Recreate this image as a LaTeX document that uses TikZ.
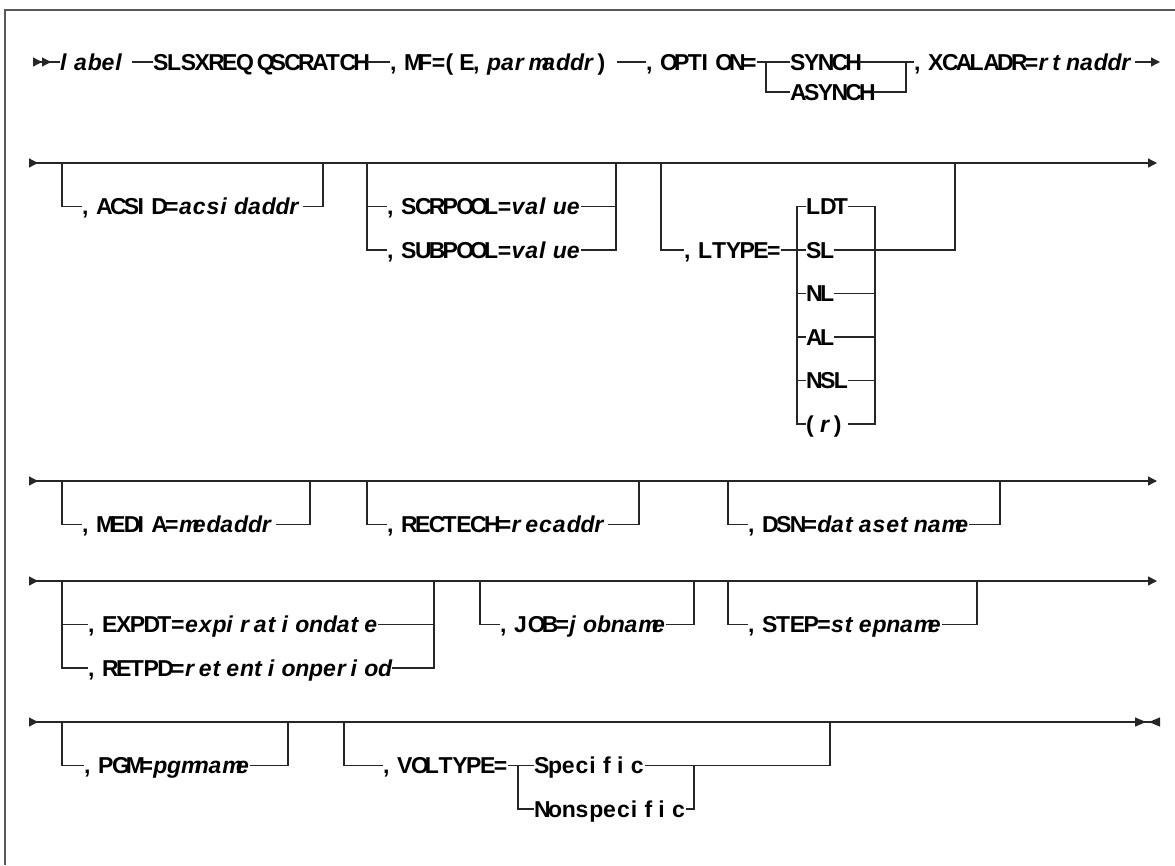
\documentclass[tikz,border=0pt]{standalone}
\usepackage{fontspec}
\setmainfont{Liberation Sans}
\usetikzlibrary{arrows.meta}
\newlength\cellw
\setlength\cellw{13.8pt}
\newlength\narw
\setlength\narw{7pt}
% every character in a cell of its own, as the listing prints it
\ExplSyntaxOn
\NewDocumentCommand \rt { m }
  {
    \str_map_inline:nn { #1 }
      {
        \str_case:nnF { ##1 }
          { { , } { \makebox[\narw][l]{,} } { ~ } { \hspace{\narw} } }
          { \makebox[\cellw][l]{##1} }
      }
  }
\ExplSyntaxOff
\tikzset{
  tipin/.tip={Triangle[reversed,length=9pt,width=9pt]},
  tipout/.tip={Triangle[length=9pt,width=9pt]}
}
\begin{document}
\begin{tikzpicture}[x=1pt,y=-1pt,
    rail/.style={line width=1.3pt,draw=black!85},
    item/.style={anchor=west,inner xsep=0pt,inner ysep=0pt,
      text height=16.5pt,text depth=0pt,
      font=\fontsize{23}{26}\selectfont\bfseries}]
  \useasboundingbox (0,0) rectangle (1175,865);
  \draw[line width=1.5pt,black!65] (5,865) -- (5,10) -- (1175,10);

  % row 1
  \coordinate (s1) at (28,62);
  \node[item] (lab) at (60,62) {\itshape\rt{label}};
  \node[item] (macro) at (153,62) {\rt{SLSXREQ QSCRATCH}};
  \node[item] (mf) at (390,62) {\rt{, MF=(E, }\textit{\rt{parmaddr}}\rt{)}};
  \node[item] (opt) at (646,62) {\rt{, OPTION=}};
  \coordinate (optL) at (766,62);
  \node[item] (synch) at (790,62) {\rt{SYNCH}};
  \node[item] (asynch) at (790,92) {\rt{ASYNCH}};
  \coordinate (optR) at (906,62);
  \node[item] (xcal) at (914,62) {\rt{, XCALADR=}\textit{\rt{rtnaddr}}};
  \coordinate (e1) at (1160,62);
  \draw[rail,{Triangle[reversed,length=9pt,width=9pt,sep=5pt]Triangle[reversed,length=9pt,width=9pt]}-] (s1) -- (lab.west);
  \draw[rail,shorten <=3pt] (lab.east) -- (macro.west);
  \draw[rail] (macro.east) -- (mf.west);
  \draw[rail,shorten <=5pt] (mf.east) -- (opt.west);
  \draw[rail] (opt.east) -- (optL) -- (synch.west);
  \draw[rail] (optL) |- (asynch.west);
  \draw[rail] (synch.east) -- (optR) -- (xcal.west);
  \draw[rail] (asynch.east) -| (optR);
  \draw[rail,-tipout] (xcal.east) -- (e1);

  % row 2
  \coordinate (s2) at (29,163);
  \coordinate (e2) at (1157,163);
  \draw[rail,tipin-tipout] (s2) -- (e2);
  \coordinate (a1) at (62,163);
  \coordinate (a2) at (323,163);
  \node[item] (acsid) at (82,206.5) {\rt{, ACSID=}\textit{\rt{acsidaddr}}};
  \draw[rail] (a1) |- (acsid.west);
  \draw[rail] (acsid.east) -| (a2);
  \coordinate (p1) at (367,163);
  \coordinate (p2) at (616,163);
  \node[item] (scr) at (387,206.5) {\rt{, SCRPOOL=}\textit{\rt{value}}};
  \node[item] (sub) at (387,250) {\rt{, SUBPOOL=}\textit{\rt{value}}};
  \draw[rail] (p1) |- (sub.west);
  \draw[rail] (p1) |- (scr.west);
  \draw[rail] (scr.east) -| (p2);
  \draw[rail] (sub.east) -| (p2);
  \coordinate (t1) at (661,163);
  \coordinate (t2) at (955,163);
  \node[item] (ltype) at (684,250) {\rt{, LTYPE=}};
  \coordinate (kL) at (797,250);
  \coordinate (kR) at (875,250);
  \node[item] (ldt) at (806,206.5) {\rt{LDT}};
  \node[item] (sl) at (806,250) {\rt{SL}};
  \node[item] (nl) at (806,293.5) {\rt{NL}};
  \node[item] (al) at (806,337) {\rt{AL}};
  \node[item] (nsl) at (806,380.5) {\rt{NSL}};
  \node[item] (rr) at (806,424) {\rt{(}\textit{\rt{r}}\rt{)}};
  \draw[rail] (t1) |- (ltype.west);
  \draw[rail] (ltype.east) -- (sl.west);
  \draw[rail] (sl.east) -| (t2);
  \foreach \n in {ldt,nl,al,nsl,rr} {
    \draw[rail] (kL) |- (\n.west);
    \draw[rail] (\n.east) -| (kR);
  }

  % row 3
  \coordinate (s3) at (29,481);
  \coordinate (e3) at (1157,481);
  \draw[rail,tipin-tipout] (s3) -- (e3);
  \coordinate (m1) at (62,481);
  \coordinate (m2) at (310,481);
  \node[item] (media) at (82,524.5) {\rt{, MEDIA=}\textit{\rt{medaddr}}};
  \draw[rail] (m1) |- (media.west);
  \draw[rail] (media.east) -| (m2);
  \coordinate (r1) at (367,481);
  \coordinate (r2) at (639,481);
  \node[item] (rectech) at (387,524.5) {\rt{, RECTECH=}\textit{\rt{recaddr}}};
  \draw[rail] (r1) |- (rectech.west);
  \draw[rail] (rectech.east) -| (r2);
  \coordinate (d1) at (728,481);
  \coordinate (d2) at (1000,481);
  \node[item] (dsn) at (748,524.5) {\rt{, DSN=}\textit{\rt{datasetname}}};
  \draw[rail] (d1) |- (dsn.west);
  \draw[rail] (dsn.east) -| (d2);

  % row 4
  \coordinate (s4) at (29,581);
  \coordinate (e4) at (1157,581);
  \draw[rail,tipin-tipout] (s4) -- (e4);
  \coordinate (x1) at (62,581);
  \coordinate (x2) at (434,581);
  \node[item] (expdt) at (88,624.5) {\rt{, EXPDT=}\textit{\rt{expirationdate}}};
  \node[item] (retpd) at (88,668) {\rt{, RETPD=}\textit{\rt{retentionperiod}}};
  \draw[rail] (x1) |- (retpd.west);
  \draw[rail] (x1) |- (expdt.west);
  \draw[rail] (expdt.east) -| (x2);
  \draw[rail] (retpd.east) -| (x2);
  \coordinate (j1) at (480,581);
  \coordinate (j2) at (694,581);
  \node[item] (job) at (500,624.5) {\rt{, JOB=}\textit{\rt{jobname}}};
  \draw[rail] (j1) |- (job.west);
  \draw[rail] (job.east) -| (j2);
  \coordinate (st1) at (728,581);
  \coordinate (st2) at (977,581);
  \node[item] (stepn) at (748,624.5) {\rt{, STEP=}\textit{\rt{stepname}}};
  \draw[rail] (st1) |- (stepn.west);
  \draw[rail] (stepn.east) -| (st2);

  % row 5
  \coordinate (s5) at (29,722);
  \coordinate (e5) at (1160,722);
  \draw[rail,tipin-{Triangle[length=11pt,width=9pt,sep=3pt]Triangle[reversed,length=11pt,width=9pt]}] (s5) -- (e5);
  \coordinate (g1) at (62,722);
  \coordinate (g2) at (288,722);
  \node[item] (pgm) at (84,765.5) {\rt{, PGM=}\textit{\rt{pgmname}}};
  \draw[rail] (g1) |- (pgm.west);
  \draw[rail] (pgm.east) -| (g2);
  \coordinate (v1) at (344,722);
  \coordinate (v2) at (830,722);
  \node[item] (voltype) at (383,765.5) {\rt{, VOLTYPE=}};
  \coordinate (vj) at (518,765.5);
  \node[item] (spec) at (534,765.5) {\rt{Specific}};
  \node[item] (nonspec) at (534,809) {\rt{Nonspecific}};
  \coordinate (vk) at (694,765.5);
  \draw[rail] (v1) |- (voltype.west);
  \draw[rail] (voltype.east) -- (vj) -- (spec.west);
  \draw[rail] (vj) |- (nonspec.west);
  \draw[rail] (spec.east) -| (v2);
  \draw[rail] (nonspec.east) -| (vk);
\end{tikzpicture}
\end{document}
